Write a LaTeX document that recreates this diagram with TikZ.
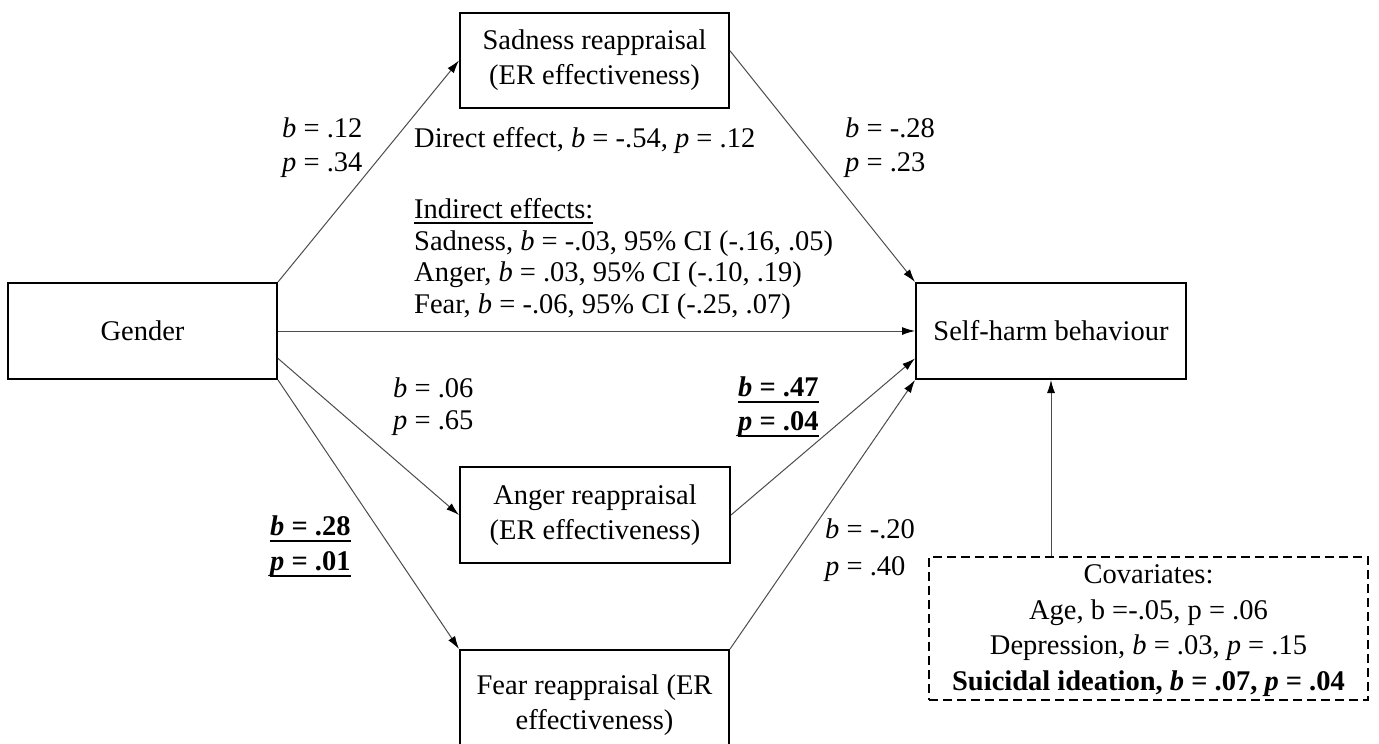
\documentclass[tikz,border=0pt]{standalone}
\usepackage{fontspec}
\setmainfont{Liberation Serif}
\usetikzlibrary{arrows.meta,calc}
\begin{document}
\begin{tikzpicture}[x=1pt,y=-1pt,
  every node/.style={font=\fontsize{28.5}{33}\selectfont},
  box/.style={draw=black,line width=2pt,inner sep=0pt,align=center,font=\fontsize{28.5}{35}\selectfont},
  covbox/.style={draw=black,line width=1.6pt,dash pattern=on 9pt off 5pt,inner sep=0pt},
  lbl/.style={inner sep=0pt,anchor=base west},
  boldlbl/.style={lbl,font=\fontsize{28.5}{33}\selectfont\bfseries},
  link/.style={draw=black!70,line width=1pt,-{Latex[length=13pt,width=8pt,color=black]}},
  uline/.style={draw=black,line width=2pt},
  thinuline/.style={draw=black,line width=1.3pt},
]
\clip (0,0) rectangle (1379,744);
\fill[white] (0,0) rectangle (1379,744);

% variables
\node[box,minimum width=269pt,minimum height=96pt] (gender) at (142.5,331) {Gender};
\node[box,minimum width=269pt,minimum height=95pt] (sad) at (594.5,60.5) {Sadness reappraisal\\(ER effectiveness)};
\node[box,minimum width=270pt,minimum height=96pt] (self) at (1051,331) {Self-harm behaviour};
\node[box,minimum width=270pt,minimum height=96pt] (anger) at (595,515) {Anger reappraisal\\(ER effectiveness)};
\node[box,minimum width=269pt,minimum height=110pt] (fear) at (594.5,705) {Fear reappraisal (ER\\effectiveness)};
\node[covbox,minimum width=439pt,minimum height=143pt] (cov) at (1148.5,628.5) {};
\node[inner sep=0pt,align=center,font=\fontsize{28.5}{35.5}\selectfont] (covtext) at ($(cov.center)+(0,2)$)
  {Covariates:\\Age, b =-.05, p = .06\\Depression, \textit{b} = .03, \textit{p} = .15\\\textbf{Suicidal ideation, \textit{b} = .07, \textit{p} = .04}};

% paths
\draw[link] (gender.north east) -- (sad.west);
\draw[link] ($(sad.north east)!0.4!(sad.south east)$) -- (self.north west);
\draw[link] (gender.east) -- (self.west);
\draw[link] ($(gender.north east)!0.78!(gender.south east)$) -- (anger.west);
\draw[link] (gender.south east) -- (fear.north west);
\draw[link] (anger.east) -- ($(self.north west)!0.78!(self.south west)$);
\draw[link] (fear.north east) -- (self.south west);
\draw[link] (self.south |- cov.north) -- (self.south);

% coefficients
\node[lbl] (b12) at (282,137) {\textit{b} = .12};
\node[lbl] (p34) at (282,171) {\textit{p} = .34};
\node[lbl] (direct) at (414,147) {Direct effect, \textit{b} = -.54, \textit{p} = .12};
\node[lbl] (bsad) at (845,137) {\textit{b} = -.28};
\node[lbl] (psad) at (845,171) {\textit{p} = .23};

\node[lbl] (indirect) at (414,218) {Indirect effects:};
\draw[thinuline] ($(indirect.base west)+(0,5)$) -- ($(indirect.base east)+(0,5)$);
\node[lbl] (isad) at (414,250) {Sadness, \textit{b} = -.03, 95\% CI (-.16, .05)};
\node[lbl] (iang) at (414,281) {Anger, \textit{b} = .03, 95\% CI (-.10, .19)};
\node[lbl] (ifear) at (414,313) {Fear, \textit{b} = -.06, 95\% CI (-.25, .07)};

\node[lbl] (b06) at (393,397) {\textit{b} = .06};
\node[lbl] (p65) at (393,429) {\textit{p} = .65};

\node[boldlbl] (b47) at (738,396) {\textit{b} = .47};
\node[boldlbl] (p04) at (738,430) {\textit{p} = .04};
\draw[uline] ($(b47.base west)+(0,6)$) -- ($(b47.base east)+(0,6)$);
\draw[uline] ($(p04.base west)+(0,6)$) -- ($(p04.base east)+(0,6)$);

\node[boldlbl] (b28) at (270,535) {\textit{b} = .28};
\node[boldlbl] (p01) at (270,570) {\textit{p} = .01};
\draw[uline] ($(b28.base west)+(0,6)$) -- ($(b28.base east)+(0,6)$);
\draw[uline] ($(p01.base west)+(0,6)$) -- ($(p01.base east)+(0,6)$);

\node[lbl] (b20) at (825,538) {\textit{b} = -.20};
\node[lbl] (p40) at (825,575) {\textit{p} = .40};
\end{tikzpicture}
\end{document}
